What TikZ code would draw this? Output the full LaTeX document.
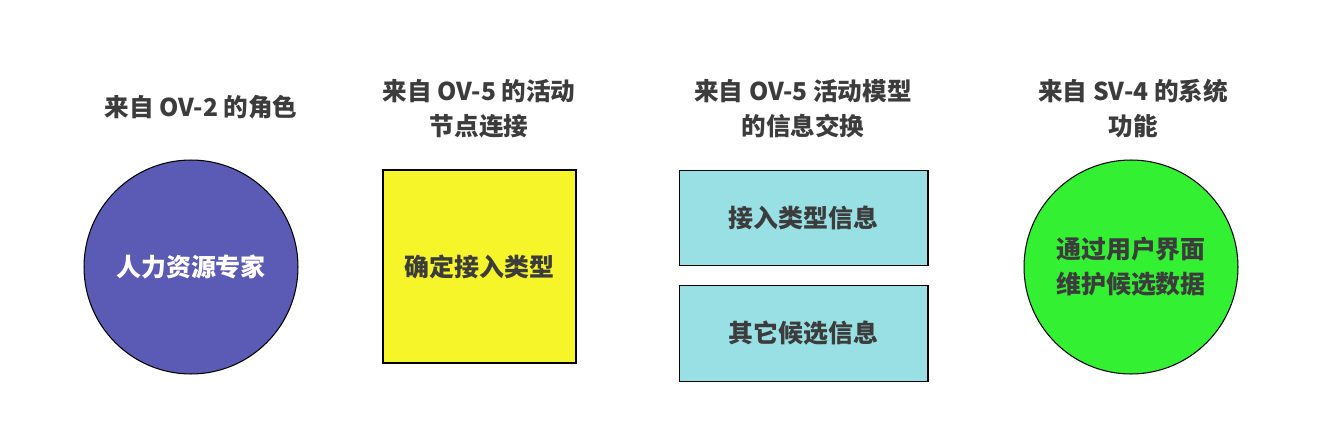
\documentclass[tikz,border=0pt]{standalone}
\usepackage{fontspec}
\setmainfont{Noto Sans CJK SC}
\usepackage{tikz}
\usetikzlibrary{positioning}
\usepackage{xcolor}
\definecolor{rolefill}{HTML}{5B5BB5}
\definecolor{actfill}{HTML}{F5F52A}
\definecolor{infofill}{HTML}{98E0E4}
\definecolor{funcfill}{HTML}{33F033}
\definecolor{textgray}{HTML}{3C3C3C}

\begin{document}
\begin{tikzpicture}[x=0.02cm, y=-0.02cm,
  title/.style={font=\fontsize{14}{19.9}\selectfont\bfseries, text=textgray, align=center},
  body/.style={font=\fontsize{14.2}{19.9}\selectfont\bfseries, text=textgray, align=center,
    draw=black, line width=0.6pt, inner sep=0pt},
  roundbox/.style={body, circle, minimum size=4.28cm},
  squarebox/.style={body, rectangle, minimum width=3.86cm, minimum height=3.86cm},
  infobox/.style={body, rectangle, minimum width=4.98cm, minimum height=1.91cm}
]

  % Page frame
  \useasboundingbox (0,0) rectangle (1319,446);

  % Column titles
  \node[title] (roleTitle) at (201,107) {来自 OV-2 的角色};
  \node[title] (nodeTitle) at (479,109) {来自 OV-5 的活动\\节点连接};
  \node[title] (infoTitle) at (803,109) {来自 OV-5 活动模型\\的信息交换};
  \node[title] (funcTitle) at (1133,109) {来自 SV-4 的系统\\功能};

  % Role
  \node[roundbox, fill=rolefill, text=white] (role) at (191,267) {人力资源专家};

  % Activity node connection
  \node[squarebox, fill=actfill] (conn) at (479.5,266.5) {确定接入类型};

  % Information exchanges
  \node[infobox, fill=infofill] (infoA) at (803.5,218) {接入类型信息};
  \node[infobox, fill=infofill] (infoB) at (803.5,333.5) {其它候选信息};

  % System function
  \node[roundbox, fill=funcfill] (func) at (1131,267) {通过用户界面\\维护候选数据};

\end{tikzpicture}
\end{document}
